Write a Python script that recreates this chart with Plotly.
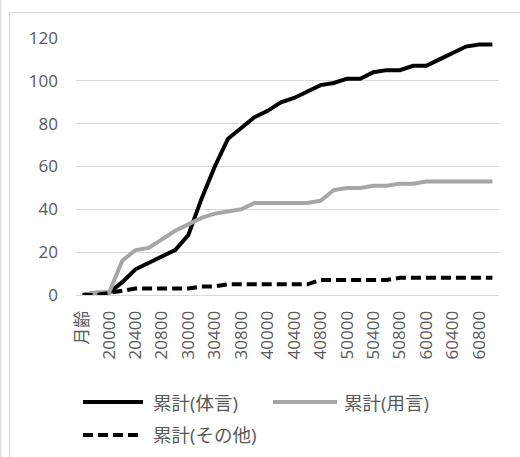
import plotly.graph_objects as go

# Age categories (years / months / days), first row is the header cell
categories = ["月齢", "11000",
              "20000", "20200", "20400", "20600", "20800", "21000",
              "30000", "30200", "30400", "30600", "30800", "31000",
              "40000", "40200", "40400", "40600", "40800", "41000",
              "50000", "50200", "50400", "50600", "50800", "51000",
              "60000", "60200", "60400", "60600", "60800", "61000"]

# Cumulative counts per word class
taigen = [0, 1, 1, 6, 12, 15, 18, 21, 28, 45, 60, 73, 78, 83,
          86, 90, 92, 95, 98, 99, 101, 101, 104, 105, 105, 107,
          107, 110, 113, 116, 117, 117]
yougen = [0, 1, 1, 16, 21, 22, 26, 30, 33, 36, 38, 39, 40, 43,
          43, 43, 43, 43, 44, 49, 50, 50, 51, 51, 52, 52,
          53, 53, 53, 53, 53, 53]
sonota = [0, 0, 1, 2, 3, 3, 3, 3, 3, 4, 4, 5, 5, 5,
          5, 5, 5, 5, 7, 7, 7, 7, 7, 7, 8, 8,
          8, 8, 8, 8, 8, 8]

series_names = ["累計(体言)", "累計(用言)", "累計(その他)"]
y_ticks = [0, 20, 40, 60, 80, 100, 120]

W, H = 520, 457
ML, MR, MT, MB = 76, 21, 38, 162
PW, PH = W - ML - MR, H - MT - MB

FONT = "Open Sans, Noto Sans CJK JP, sans-serif"
TXT = "#595959"
GRID = "#d9d9d9"


def px(x):
    return (x - ML) / PW


def py(y):
    return (H - MB - y) / PH


styles = [dict(color="#000000", width=4, dash="solid"),
          dict(color="#a6a6a6", width=4, dash="solid"),
          dict(color="#000000", width=4, dash="10px,5px")]

fig = go.Figure()
for name, vals, st in zip(series_names, [taigen, yougen, sonota], styles):
    fig.add_trace(go.Scatter(x=categories, y=vals, mode="lines", name=name,
                             line=st, showlegend=False))

# Legend drawn as line samples plus labels
legend_rows = [(83, 143, 151, 402), (273, 337, 342, 402), (83, 143, 151, 435)]
shapes = []
annotations = []
for name, st, (x0, x1, xt, yc) in zip(series_names, styles, legend_rows):
    shapes.append(dict(type="line", xref="paper", yref="paper",
                       x0=px(x0), x1=px(x1), y0=py(yc), y1=py(yc),
                       line=dict(color=st["color"], width=4, dash=st["dash"])))
    annotations.append(dict(xref="paper", yref="paper", x=px(xt), y=py(yc),
                            xanchor="left", yanchor="middle", showarrow=False,
                            text=name, font=dict(family=FONT, size=18.5, color=TXT)))

# Chart-area frame
shapes.append(dict(type="rect", xref="paper", yref="paper",
                   x0=px(9.5), x1=px(540), y0=py(12.5), y1=py(480),
                   line=dict(color=GRID, width=1.2), layer="below"))
shapes.append(dict(type="line", xref="paper", yref="paper",
                   x0=px(0.8), x1=px(0.8), y0=py(0), y1=py(480),
                   line=dict(color=GRID, width=1.2), layer="below"))

fig.update_layout(
    width=W, height=H,
    margin=dict(l=ML, r=MR, t=MT, b=MB, pad=0),
    paper_bgcolor="white", plot_bgcolor="white",
    font=dict(family=FONT, size=17, color=TXT),
    shapes=shapes, annotations=annotations,
    xaxis=dict(type="category", categoryorder="array", categoryarray=categories,
               range=[-0.5, len(categories) - 0.5],
               tickmode="array", tickvals=categories[::2], ticktext=categories[::2],
               tickangle=-90, showgrid=False, zeroline=False,
               showline=True, linecolor=GRID, linewidth=1,
               ticks="", ticklabelstandoff=8,
               tickfont=dict(family=FONT, size=17, color=TXT)),
    yaxis=dict(range=[0, 120], tickvals=y_ticks, showgrid=True, gridcolor=GRID,
               gridwidth=1, zeroline=False, showline=False, ticks="",
               ticklabelstandoff=17,
               tickfont=dict(family=FONT, size=17, color=TXT)),
)

fig.write_html("out.html")
